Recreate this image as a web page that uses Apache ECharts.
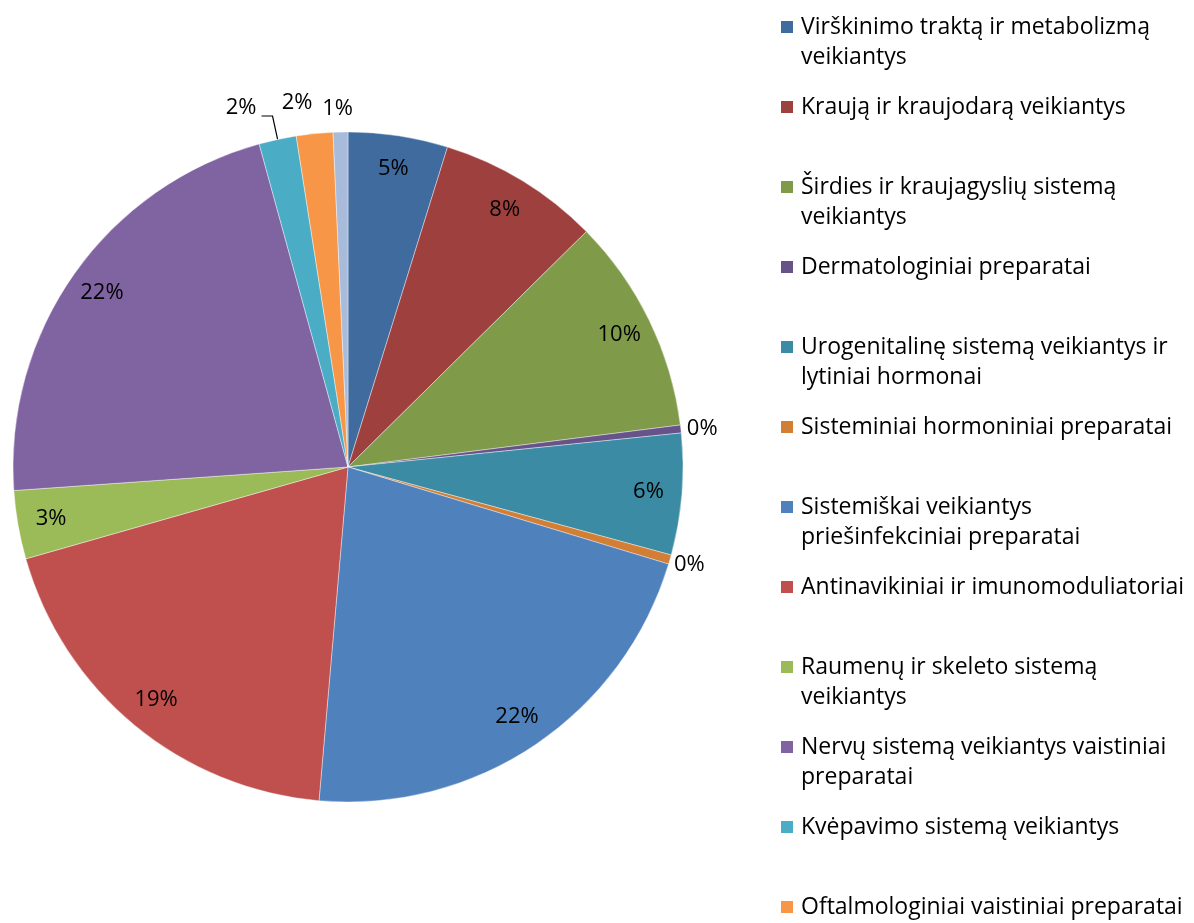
<!DOCTYPE html>
<html>
<head>
<meta charset="utf-8">
<script src="https://cdn.jsdelivr.net/npm/echarts@6/dist/echarts.min.js"></script>
<style>
  html, body { margin: 0; padding: 0; background: #fff; }
  #chart { width: 1194px; height: 923px; }
</style>
</head>
<body>
<div id="chart"></div>
<script>
// ---- data ----
const categories = [
  "Virškinimo traktą ir metabolizmą\nveikiantys",
  "Kraują ir kraujodarą veikiantys",
  "Širdies ir kraujagyslių sistemą\nveikiantys",
  "Dermatologiniai preparatai",
  "Urogenitalinę sistemą veikiantys ir\nlytiniai hormonai",
  "Sisteminiai hormoniniai preparatai",
  "Sistemiškai veikiantys\npriešinfekciniai preparatai",
  "Antinavikiniai ir imunomoduliatoriai",
  "Raumenų ir skeleto sistemą\nveikiantys",
  "Nervų sistemą veikiantys vaistiniai\npreparatai",
  "Kvėpavimo sistemą veikiantys",
  "Oftalmologiniai vaistiniai preparatai",
  "Įvairūs preparatai"
];
const shares = [4.8, 7.8, 10.4, 0.38, 5.85, 0.45, 21.7, 19.2, 3.3, 21.85, 1.8, 1.76, 0.71];
const colors = ["#3F6B9F", "#9E403E", "#7F9A48", "#68528A", "#3A8BA3", "#D27E35",
                "#4F81BD", "#C0504D", "#9BBB59", "#8064A2", "#4BACC6", "#F79646", "#A9BBDA"];

// ---- styling ----
const FONT = "Open Sans";
const CENTER = [348, 467];
const R = 335;

// per-slice label style (outside labels for the thin slices)
// nudge: 'up' / 'down' shifts the text half a (small) line relative to its anchor
const outsideLabelStyle = {
  3:  { line: false, length: 0,  length2: 0,  dist: 6,   nudge: null,   lh: 0 },
  5:  { line: false, length: 0,  length2: 0,  dist: 4,   nudge: 'down', lh: 10 },
  10: { line: true,  length: 24, length2: 11, dist: 5,   nudge: 'up',   lh: 16 },
  11: { line: false, length: 31, length2: 0,  dist: -1,  nudge: null,   lh: 0 },
  12: { line: false, length: 23, length2: 0,  dist: -13, nudge: null,   lh: 0 }
};

function pctText(p) { return Math.round(p.percent) + '%'; }

const mainData = categories.map((name, i) => ({
  name: name,
  value: shares[i],
  itemStyle: { color: colors[i] }
}));

const labelData = categories.map((name, i) => {
  const o = outsideLabelStyle[i];
  if (o) {
    const lbl = { show: true, position: 'outside', distanceToLabelLine: o.dist };
    if (o.nudge === 'up') {
      lbl.lineHeight = o.lh;
      lbl.formatter = function (p) { return pctText(p) + '\n'; };
    } else if (o.nudge === 'down') {
      lbl.lineHeight = o.lh;
      lbl.formatter = function (p) { return '\n' + pctText(p); };
    }
    return {
      name: name,
      value: shares[i],
      label: lbl,
      labelLine: { show: o.line, length: o.length, length2: o.length2 }
    };
  }
  return {
    name: name,
    value: shares[i],
    label: { show: true, position: 'inside' },
    labelLine: { show: false }
  };
});

const chart = echarts.init(document.getElementById('chart'), null, { renderer: 'canvas' });
chart.setOption({
  backgroundColor: '#ffffff',
  animation: false,
  textStyle: { fontFamily: FONT },
  legend: {
    orient: 'vertical',
    left: 779,
    top: -18,
    height: 1200,
    padding: 0,
    itemGap: -10,
    itemWidth: 14,
    itemHeight: 14,
    icon: 'rect',
    data: categories,
    formatter: function (name) {
      return '\n' + name + (name.indexOf('\n') < 0 ? '\n ' : '');
    },
    textStyle: {
      fontFamily: FONT,
      fontSize: 23,
      lineHeight: 30,
      color: '#000',
      padding: [0, 0, 0, 2]
    },
    selectedMode: false
  },
  series: [
    {
      type: 'pie',
      center: CENTER,
      radius: [0, R],
      startAngle: 90,
      clockwise: true,
      avoidLabelOverlap: false,
      silent: true,
      label: { show: false },
      labelLine: { show: false },
      itemStyle: { borderColor: '#ffffff', borderWidth: 0.4 },
      emphasis: { disabled: true },
      data: mainData
    },
    {
      type: 'pie',
      center: CENTER,
      radius: [262, R],
      startAngle: 90,
      clockwise: true,
      avoidLabelOverlap: false,
      silent: true,
      legendHoverLink: false,
      itemStyle: { color: 'rgba(0,0,0,0)', borderWidth: 0 },
      emphasis: { disabled: true },
      label: {
        fontFamily: FONT,
        fontSize: 22,
        color: '#000',
        formatter: pctText
      },
      labelLine: {
        lineStyle: { color: '#000', width: 1.2 },
        minTurnAngle: 0,
        maxSurfaceAngle: 180
      },
      data: labelData
    }
  ]
});
</script>
</body>
</html>
